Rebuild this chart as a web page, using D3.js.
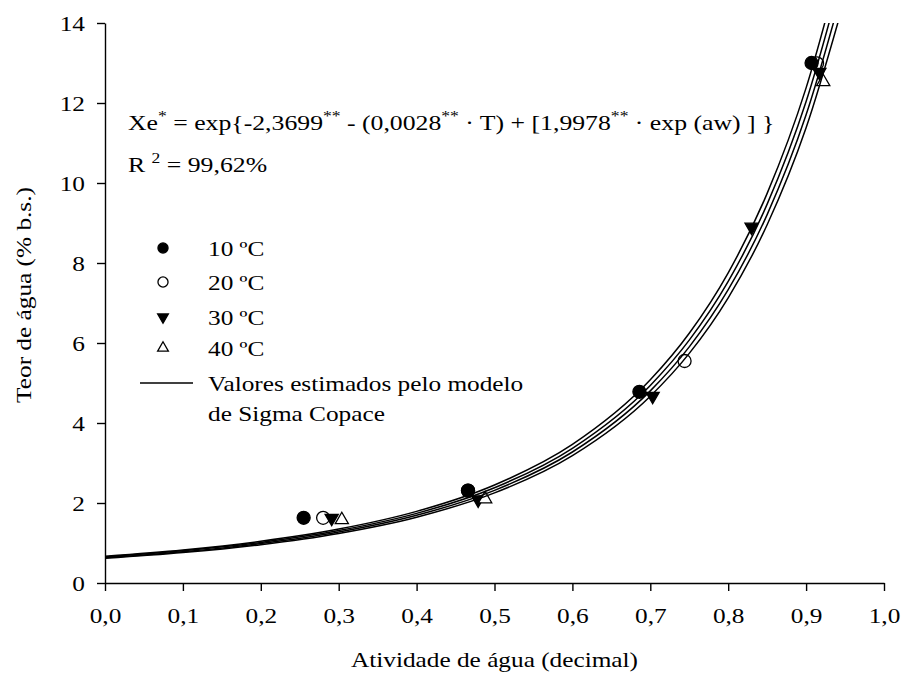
<!DOCTYPE html>
<html>
<head>
<meta charset="utf-8">
<script src="https://cdn.jsdelivr.net/npm/d3@7"></script>
<style>
  body { margin: 0; background: #fff; }
  svg { display: block; }
  text { font-family: "Liberation Serif", "DejaVu Serif", serif; fill: #000; }
</style>
</head>
<body>
<div id="chart"></div>
<script>
var svgWidth = 903;
var svgHeight = 682;

var margin = { top: 23, right: 19, bottom: 99, left: 105 };
var width = svgWidth - margin.left - margin.right;
var height = svgHeight - margin.top - margin.bottom;

// text is a bit wider than tall in the original
var fontSize = 22;
var stretch = 1.15;

// tick values
var xTicks = [0, 0.1, 0.2, 0.3, 0.4, 0.5, 0.6, 0.7, 0.8, 0.9, 1.0];
var yTicks = [0, 2, 4, 6, 8, 10, 12, 14];

// observed points (aw, moisture % b.s.)
var aw10 = [0.255, 0.466, 0.686, 0.907];
var xe10 = [1.63, 2.31, 4.78, 13.00];
var aw20 = [0.280, 0.466, 0.744, 0.914];
var xe20 = [1.63, 2.31, 5.55, 12.99];
var aw30 = [0.291, 0.479, 0.703, 0.830, 0.917];
var xe30 = [1.62, 2.08, 4.67, 8.90, 12.77];
var aw40 = [0.304, 0.488, 0.922];
var xe40 = [1.58, 2.10, 12.53];

// estimated curves
var curveAw = [0, 0.1, 0.2, 0.3, 0.4, 0.5, 0.6, 0.7, 0.75, 0.8, 0.85, 0.9, 0.95];
var curve10 = [0.670, 0.827, 1.043, 1.348, 1.790, 2.450, 3.464, 5.079, 6.243, 7.755, 9.740, 12.378, 15.924];
var curve20 = [0.652, 0.804, 1.014, 1.311, 1.741, 2.382, 3.368, 4.939, 6.071, 7.540, 9.471, 12.036, 15.484];
var curve30 = [0.634, 0.782, 0.986, 1.275, 1.693, 2.316, 3.275, 4.803, 5.903, 7.332, 9.210, 11.704, 15.057];
var curve40 = [0.616, 0.760, 0.959, 1.240, 1.646, 2.252, 3.185, 4.670, 5.740, 7.130, 8.955, 11.380, 14.641];

var legendLabels = ["10 ºC", "20 ºC", "30 ºC", "40 ºC"];

var svg = d3.select("#chart")
  .append("svg")
  .attr("width", svgWidth)
  .attr("height", svgHeight);

var chartGroup = svg.append("g")
  .attr("transform", `translate(${margin.left}, ${margin.top})`);

var xScale = d3.scaleLinear().domain([0, 1]).range([0, width]);
var yScale = d3.scaleLinear().domain([0, 14]).range([height, 0]);

var commaFmt = function(f) {
  return function(d) { return d3.format(f)(d).replace(".", ","); };
};

// put a text at (x, y) and widen it
function wideText(parent, x, y, extra, s) {
  return parent.append("text")
    .attr("transform", `translate(${x}, ${y}) ${extra || ""} scale(${s || stretch}, 1)`)
    .style("font-size", fontSize + "px");
}

// axes
var bottomAxis = d3.axisBottom(xScale)
  .tickValues(xTicks)
  .tickSize(8)
  .tickPadding(16)
  .tickSizeOuter(0)
  .tickFormat(commaFmt(".1f"));

var leftAxis = d3.axisLeft(yScale)
  .tickValues(yTicks)
  .tickSize(8)
  .tickPadding(12)
  .tickSizeOuter(0)
  .tickFormat(d3.format("d"));

var xAxis = chartGroup.append("g")
  .attr("transform", `translate(0, ${height})`)
  .call(bottomAxis);

var yAxis = chartGroup.append("g")
  .call(leftAxis);

[xAxis, yAxis].forEach(function(a) {
  a.select(".domain").attr("stroke", "#000").attr("stroke-width", 1.4);
  a.selectAll(".tick line").attr("stroke", "#000").attr("stroke-width", 1.4);
  a.selectAll(".tick text")
    .style("font-family", "Liberation Serif")
    .style("font-size", fontSize + "px")
    .attr("fill", "#000")
    .each(function() {
      var t = d3.select(this);
      var tx = +t.attr("x") || 0;
      var ty = +t.attr("y") || 0;
      t.attr("x", 0).attr("y", 0)
        .attr("transform", `translate(${tx}, ${ty}) scale(${stretch}, 1)`);
    });
});

// axis titles
wideText(svg, margin.left + width / 2, 667)
  .attr("text-anchor", "middle")
  .text("Atividade de água (decimal)");

wideText(svg, 31, 295, "rotate(-90)")
  .attr("text-anchor", "middle")
  .text("Teor de água (% b.s.)");

// clip for curves
svg.append("defs").append("clipPath")
  .attr("id", "plotClip")
  .append("rect")
  .attr("x", 0).attr("y", 0)
  .attr("width", width).attr("height", height);

// markers
var triUp = d3.symbol().type(d3.symbolTriangle).size(75);
var circ = d3.symbol().type(d3.symbolCircle).size(133);

var markerGroup = chartGroup.append("g");

function drawPoints(aws, xes, shape, fill, rot) {
  markerGroup.selectAll(null)
    .data(aws.map(function(a, i) { return [a, xes[i]]; }))
    .enter()
    .append("path")
    .attr("d", shape)
    .attr("transform", d => `translate(${xScale(d[0])}, ${yScale(d[1])}) rotate(${rot})`)
    .attr("fill", fill)
    .attr("stroke", "#000")
    .attr("stroke-width", 1.3);
}

drawPoints(aw20, xe20, circ, "#fff", 0);
drawPoints(aw10, xe10, circ, "#000", 0);
drawPoints(aw30, xe30, triUp, "#000", 180);
drawPoints(aw40, xe40, triUp, "#fff", 0);

// model curves
var line = d3.line()
  .x(d => xScale(d[0]))
  .y(d => yScale(d[1]))
  .curve(d3.curveMonotoneX);

var curveGroup = chartGroup.append("g").attr("clip-path", "url(#plotClip)");
[curve10, curve20, curve30, curve40].forEach(function(c) {
  curveGroup.append("path")
    .datum(curveAw.map(function(a, i) { return [a, c[i]]; }))
    .attr("d", line)
    .attr("fill", "none")
    .attr("stroke", "#000")
    .attr("stroke-width", 1.5);
});

// equation with superscripts
function supText(sel, parts) {
  var raised = false;
  parts.forEach(function(p) {
    var ts = sel.append("tspan").text(p.t);
    if (p.sup) {
      ts.attr("dy", -9).style("font-size", "15px");
      raised = true;
    } else if (raised) {
      ts.attr("dy", 9);
      raised = false;
    }
  });
}

var eq = wideText(svg, 128, 130, "", 1.17).attr("xml:space", "preserve");
supText(eq, [
  { t: "Xe" }, { t: "*", sup: true },
  { t: " = exp{-2,3699" }, { t: "**", sup: true },
  { t: " - (0,0028" }, { t: "**", sup: true },
  { t: " \u00B7 T) + [1,9978" }, { t: "**", sup: true },
  { t: " \u00B7 exp (aw) ] }" }
]);

var r2 = wideText(svg, 128, 172, "", 1.17).attr("xml:space", "preserve");
supText(r2, [{ t: "R " }, { t: "2", sup: true }, { t: " = 99,62%" }]);

// legend
var legendY = [248, 282, 317, 348];
var legendShapes = [
  { shape: d3.symbol().type(d3.symbolCircle).size(80), fill: "#000", rot: 0 },
  { shape: d3.symbol().type(d3.symbolCircle).size(80), fill: "#fff", rot: 0 },
  { shape: d3.symbol().type(d3.symbolTriangle).size(50), fill: "#000", rot: 180 },
  { shape: d3.symbol().type(d3.symbolTriangle).size(50), fill: "#fff", rot: 0 }
];
var legend = svg.append("g");
legendLabels.forEach(function(lab, i) {
  legend.append("path")
    .attr("d", legendShapes[i].shape)
    .attr("transform", `translate(163, ${legendY[i]}) rotate(${legendShapes[i].rot})`)
    .attr("fill", legendShapes[i].fill)
    .attr("stroke", "#000")
    .attr("stroke-width", 1.3);
  wideText(legend, 208, legendY[i] + 8).text(lab);
});
legend.append("line")
  .attr("x1", 140).attr("x2", 193)
  .attr("y1", 383).attr("y2", 383)
  .attr("stroke", "#000").attr("stroke-width", 1.4);
wideText(legend, 208, 391).text("Valores estimados pelo modelo");
wideText(legend, 208, 421).text("de Sigma Copace");
</script>
</body>
</html>
